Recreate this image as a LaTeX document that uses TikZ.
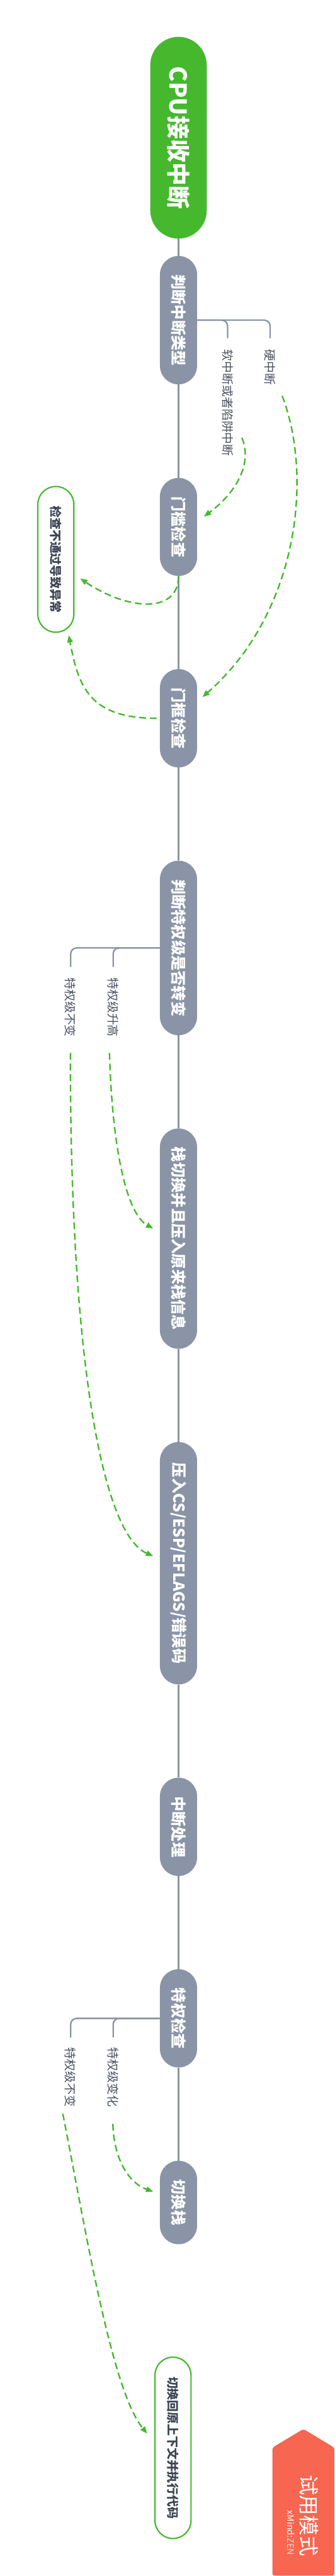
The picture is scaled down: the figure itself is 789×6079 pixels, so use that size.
\documentclass[tikz,border=0pt]{standalone}
\usepackage{fontspec}
\setmainfont{Noto Sans CJK SC}
\usetikzlibrary{arrows.meta}
\definecolor{trunkc}{HTML}{8A94A6}
\definecolor{greenc}{HTML}{45B82E}
\definecolor{textc}{HTML}{4A5160}
\definecolor{endtextc}{HTML}{3E4655}
\definecolor{badgec}{HTML}{F66651}
\tikzset{
  x=1pt,y=-1pt,
  trunk/.style={draw=trunkc,line width=3.5pt,line cap=round},
  trunkline/.style={trunk,line cap=butt},
  branch/.style={trunk,rounded corners=14pt},
  rootbox/.style={rotate=-90,fill=greenc,text=white,minimum height=133pt,inner sep=0pt,rounded corners=66.5pt,font=\fontsize{55}{60}\selectfont\bfseries},
  stepbox/.style={rotate=-90,fill=trunkc,text=white,minimum height=87.5pt,inner sep=0pt,rounded corners=43.7pt,font=\fontsize{36}{40}\selectfont\bfseries},
  endbox/.style={rotate=-90,draw=greenc,line width=3.2pt,fill=white,text=endtextc,minimum height=85pt,inner sep=0pt,rounded corners=42.5pt,font=\fontsize{28}{32}\selectfont\bfseries},
  lab/.style={rotate=-90,text=textc,inner sep=0pt,font=\fontsize{28}{32}\selectfont},
  rel/.style={draw=greenc,line width=3.5pt,dash pattern=on 16pt off 9pt,-{Triangle[length=17pt,width=13pt]}},
  badgetext/.style={rotate=-90,text=white,inner sep=0pt},
}
\begin{document}
\begin{tikzpicture}
\useasboundingbox (0,0) rectangle (789,6079);
% main column
\node[rootbox,minimum width=476pt] (root) at (420.7,325) {CPU接收中断};
\node[stepbox,minimum width=303pt] (n1) at (420.7,755.5) {判断中断类型};
\node[stepbox,minimum width=231.4pt] (n2) at (420.7,1243.5) {门槛检查};
\node[stepbox,minimum width=232pt] (n3) at (420.7,1695) {门框检查};
\node[stepbox,minimum width=412pt] (n4) at (420.7,2237) {判断特权级是否转变};
\node[stepbox,minimum width=520pt] (n5) at (420.7,2923) {栈切换并且压入原来栈信息};
\node[stepbox,minimum width=572pt] (n6) at (420.7,3689) {压入CS/ESP/EFLAGS/错误码};
\node[stepbox,minimum width=232pt] (n7) at (420.7,4311) {中断处理};
\node[stepbox,minimum width=232pt] (n8) at (420.7,4763) {特权检查};
\node[stepbox,minimum width=197pt] (n9) at (420.7,5197.5) {切换栈};
% end boxes
\node[endbox,minimum width=344pt] (e1) at (131.6,1320) {检查不通过导致异常};
\node[endbox,minimum width=428pt] (e2) at (407.7,5776.5) {切换回原上下文并执行代码};
% labels
\node[lab] (soft) at (537,951) {软中断或者陷阱中断};
\node[lab] (hard) at (636.7,867) {硬中断};
\node[lab] (la) at (266,2377) {特权级升高};
\node[lab] (lb) at (166,2377) {特权级不变};
\node[lab] (lc) at (266,4902) {特权级变化};
\node[lab] (ld) at (166,4902) {特权级不变};
% branch free ends
\coordinate (b1a) at (536.5,797);
\coordinate (b1b) at (636.6,797);
\coordinate (b4a) at (266.7,2280.6);
\coordinate (b4b) at (166.6,2280.6);
\coordinate (b8a) at (266.7,4807);
\coordinate (b8b) at (166.6,4807);
% trunk
\draw[trunkline] (root.east) -- (n1.west);
\draw[trunkline] (n1.east) -- (n2.west);
\draw[trunkline] (n2.east) -- (n3.west);
\draw[trunkline] (n3.east) -- (n4.west);
\draw[trunkline] (n4.east) -- (n5.west);
\draw[trunkline] (n5.east) -- (n6.west);
\draw[trunkline] (n6.east) -- (n7.west);
\draw[trunkline] (n7.east) -- (n8.west);
\draw[trunkline] (n8.east) -- (n9.west);
% branches
\draw[branch] (n1.north) -| (b1a);
\draw[branch] (n1.north) -| (b1b);
\draw[branch] (n4.south) -| (b4a);
\draw[branch] (n4.south) -| (b4b);
\draw[branch] (n8.south) -| (b8a);
\draw[branch] (n8.south) -| (b8b);
% relations
\draw[rel] ([shift={(33,82)}]soft.center) .. controls (595,1090) and (560,1160) .. ([shift={(59.9,-24.5)}]n2.center);
\draw[rel] ([shift={(28.3,67)}]hard.center) .. controls (740,1130) and (700,1450) .. ([shift={(56.3,-50)}]n3.center);
\draw[rel] ([shift={(0,116.5)}]n2.center) .. controls (420,1450) and (300,1440) .. ([shift={(57.4,45)}]e1.center);
\draw[rel] ([shift={(-51.7,0)}]n3.center) .. controls (210,1695) and (185,1620) .. ([shift={(30.4,179)}]e1.center);
\draw[rel] ([shift={(-8,108)}]la.center) .. controls (265,2720) and (300,2865) .. ([shift={(-59.7,-24)}]n5.center);
\draw[rel] ([shift={(0,108)}]lb.center) .. controls (165,3200) and (240,3620) .. ([shift={(-59.7,-17)}]n6.center);
\draw[rel] ([shift={(0,110)}]lc.center) .. controls (268,5090) and (300,5150) .. ([shift={(-59.7,-25.5)}]n9.center);
\draw[rel] ([shift={(-18,86)}]ld.center) .. controls (200,5250) and (262,5640) .. ([shift={(-60.7,-33.5)}]e2.center);
% trial badge
\fill[badgec,rounded corners=5pt] (642,6078) -- (642,5776) -- (715,5732) -- (788,5776) -- (788,6078) -- cycle;
\node[badgetext,font=\fontsize{48}{52}\selectfont] (badge) at (729,5936) {试用模式};
\node[badgetext,font=\fontsize{21}{24}\selectfont] (badgeb) at (686,5977) {xMind:\textcolor{white!70!badgec}{ZEN}};
\end{tikzpicture}
\end{document}
